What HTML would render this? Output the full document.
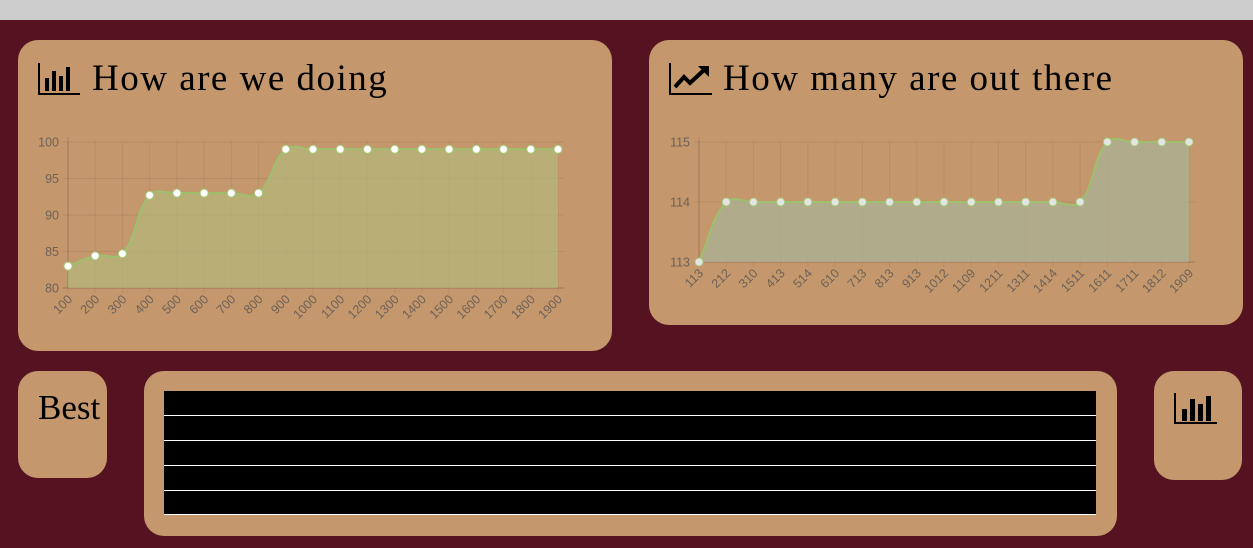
<!DOCTYPE html>
<html><head><meta charset="utf-8"><style>
body{margin:0;width:1253px;height:548px;background:#551321;position:relative;overflow:hidden;font-family:"Liberation Sans",sans-serif}
.topbar{position:absolute;left:0;top:0;width:1253px;height:20px;background:#cccccc}
.card{position:absolute;background:#c4976d;border-radius:20px}
.title{position:absolute;font-family:"Liberation Serif",serif;font-size:37px;letter-spacing:1.5px;color:#000;white-space:nowrap}
svg{position:absolute;left:0;top:0}
</style></head><body>
<div class="topbar"></div>
<div class="card" style="left:18px;top:40px;width:594px;height:311px"></div>
<div class="card" style="left:649px;top:40px;width:594px;height:285px"></div>
<div class="card" style="left:18px;top:371px;width:89px;height:107px"></div>
<div class="card" style="left:144px;top:371px;width:973px;height:165px"></div>
<div class="card" style="left:1154px;top:371px;width:88px;height:109px"></div>
<div class="title" style="left:92px;top:57px">How are we doing</div>
<div class="title" style="left:723px;top:57px">How many are out there</div>
<div class="title" style="left:38px;top:388px;font-size:35px;letter-spacing:0">Best</div>
<div style="position:absolute;left:164px;top:391px;width:932px;height:124px;background:#000">
<div style="position:absolute;left:0;top:24px;width:932px;height:1px;background:#fff"></div>
<div style="position:absolute;left:0;top:49px;width:932px;height:1px;background:#fff"></div>
<div style="position:absolute;left:0;top:74px;width:932px;height:1px;background:#fff"></div>
<div style="position:absolute;left:0;top:99px;width:932px;height:1px;background:#fff"></div>
<div style="position:absolute;left:0;top:123px;width:932px;height:1px;background:#fff"></div>
</div>
<svg width="1253" height="548" id="svg">
<g>
<path d="M39 63 V94 H80" stroke="#000" stroke-width="2" fill="none"/>
<rect x="45" y="78" width="4" height="13"/><rect x="52" y="71" width="4" height="20"/><rect x="59" y="76" width="4" height="15"/><rect x="66" y="67" width="4" height="24"/>
</g>
<g>
<path d="M670 63 V94 H712" stroke="#000" stroke-width="2" fill="none"/>
<path d="M675 87 L684 77 L690 83 L704 70" stroke="#000" stroke-width="4" fill="none"/>
<path d="M698 66 L709 66 L709 77 Z"/>
</g>
<g>
<path d="M1175 393 V423 H1217" stroke="#000" stroke-width="2" fill="none"/>
<rect x="1182" y="409" width="5" height="12"/><rect x="1190" y="399" width="5" height="22"/><rect x="1198" y="404" width="5" height="17"/><rect x="1206" y="396" width="5" height="25"/>
</g>
</svg>
<script>
const labels1=["100","200","300","400","500","600","700","800","900","1000","1100","1200","1300","1400","1500","1600","1700","1800","1900"];
const values1=[83,84.4,84.7,92.7,93,93,93,93,99,99,99,99,99,99,99,99,99,99,99];
const ticks1=[80,85,90,95,100];
const labels2=["113","212","310","413","514","610","713","813","913","1012","1109","1211","1311","1414","1511","1611","1711","1812","1909"];
const values2=[113,114,114,114,114,114,114,114,114,114,114,114,114,114,114,115,115,115,115];
const ticks2=[113,114,115];
const NS="http://www.w3.org/2000/svg";
const svg=document.getElementById('svg');
function mk(tag,attrs,parent){const e=document.createElementNS(NS,tag);for(const k in attrs)e.setAttribute(k,attrs[k]);parent.appendChild(e);return e;}
function draw(name,labels,values,ticks,x0,x1,yTop,yBot,fill,ptFill){
  const g=mk('g',{},svg);
  
  
  const vmin=ticks[0],vmax=ticks[ticks.length-1];
  const X=i=>x0+(x1-x0)*i/(labels.length-1);
  const Y=v=>yBot-(v-vmin)/(vmax-vmin)*(yBot-yTop);
  ticks.forEach(t=>{
    mk('line',{x1:x0-5,x2:x1+6,y1:Y(t),y2:Y(t),stroke:'rgba(0,0,0,0.07)'},g);
    const tx=mk('text',{x:x0-9,y:Y(t)+4.5,'text-anchor':'end','font-size':12.5,fill:'#6e6257'},g);
    tx.textContent=t;
    
    
  });
  labels.forEach((l,i)=>{
    mk('line',{x1:X(i),x2:X(i),y1:yTop,y2:yBot+5,stroke:'rgba(0,0,0,0.06)'},g);
    const tx=mk('text',{x:X(i)+5,y:yBot+12,'text-anchor':'end','font-size':12.5,fill:'#6e6257',transform:`rotate(-45 ${X(i)+5} ${yBot+12})`},g);
    tx.textContent=l;
    
    
  });
  mk('line',{x1:x0,x2:x0,y1:yTop-5,y2:yBot,stroke:'rgba(0,0,0,0.15)'},g);
  mk('line',{x1:x0-5,x2:x1+6,y1:yBot,y2:yBot,stroke:'rgba(0,0,0,0.15)'},g);
  const P=values.map((v,i)=>[X(i),Y(v)]);
  const t=0.4;let d=`M${P[0][0]},${P[0][1]}`;
  const cp=P.map((p,i)=>{const a=P[Math.max(i-1,0)],c=P[Math.min(i+1,P.length-1)];
    const d01=Math.hypot(p[0]-a[0],p[1]-a[1]),d12=Math.hypot(c[0]-p[0],c[1]-p[1]);
    let fa=d01/(d01+d12||1),fb=d12/(d01+d12||1);fa*=t;fb*=t;
    return {p:[p[0]-fa*(c[0]-a[0]),p[1]-fa*(c[1]-a[1])],n:[p[0]+fb*(c[0]-a[0]),p[1]+fb*(c[1]-a[1])]};});
  for(let i=1;i<P.length;i++){d+=` C${cp[i-1].n[0]},${cp[i-1].n[1]} ${cp[i].p[0]},${cp[i].p[1]} ${P[i][0]},${P[i][1]}`;}
  const area=mk('path',{d:d+` L${x1},${yBot} L${x0},${yBot} Z`,fill:fill},g);
  
  
  const line=mk('path',{d:d,fill:'none',stroke:'#9cc06c','stroke-width':2},g);
  
  
  P.forEach(p=>{const c=mk('circle',{cx:p[0],cy:p[1],r:4,fill:ptFill,stroke:'#a6cc7a','stroke-width':1},g);
    
    });
}
draw('doing-chart',labels1,values1,ticks1,68,558,142,288,'rgba(178,190,125,0.6)','#ffffff');
draw('out-there-chart',labels2,values2,ticks2,699,1189,142,262,'rgba(170,178,150,0.75)','#e4e4e4');
</script>
</body></html>
